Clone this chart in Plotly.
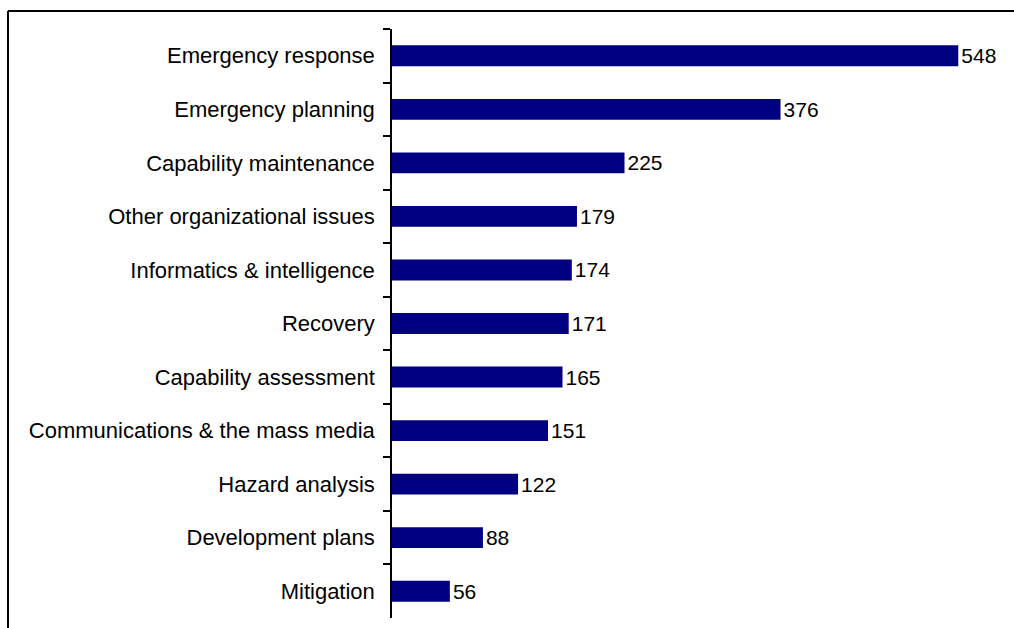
import plotly.graph_objects as go

# Number of items per topic
topics = [
    "Emergency response",
    "Emergency planning",
    "Capability maintenance",
    "Other organizational issues",
    "Informatics & intelligence",
    "Recovery",
    "Capability assessment",
    "Communications & the mass media",
    "Hazard analysis",
    "Development plans",
    "Mitigation",
]
counts = [548, 376, 225, 179, 174, 171, 165, 151, 122, 88, 56]

W, H = 1014, 628
L, R, T, B = 392, 2, 29, 10
pw, ph = W - L - R, H - T - B
FONT = "Liberation Sans, Arial, sans-serif"

fig = go.Figure(
    go.Bar(
        x=counts,
        y=topics,
        orientation="h",
        marker=dict(color="#000080", line=dict(width=0)),
        text=[str(c) for c in counts],
        textposition="outside",
        constraintext="none",
        textfont=dict(family=FONT, size=21, color="black"),
        cliponaxis=False,
    )
)

# Outer frame: left and top edges
fx0 = (8 - L) / pw
fy1 = 1 + (T - 11) / ph
fig.add_shape(type="line", xref="paper", yref="paper", x0=fx0, x1=fx0,
              y0=-0.1, y1=fy1, line=dict(color="black", width=2))
fig.add_shape(type="line", xref="paper", yref="paper", x0=fx0, x1=1.1,
              y0=fy1, y1=fy1, line=dict(color="black", width=2))

fig.update_layout(
    width=W,
    height=H,
    margin=dict(l=L, r=R, t=T, b=B),
    paper_bgcolor="white",
    plot_bgcolor="white",
    bargap=0.61,
    showlegend=False,
    font=dict(family=FONT, size=21, color="black"),
    xaxis=dict(range=[0, 600], visible=False, fixedrange=True),
    yaxis=dict(
        type="category",
        categoryorder="array",
        categoryarray=topics,
        autorange="reversed",
        showline=True,
        linecolor="black",
        linewidth=1.5,
        ticks="outside",
        tickson="boundaries",
        ticklen=7,
        tickcolor="black",
        tickwidth=1.5,
        ticklabelstandoff=11,
        showgrid=False,
        tickfont=dict(family=FONT, size=22, color="black"),
    ),
)

fig.write_html("out.html")
